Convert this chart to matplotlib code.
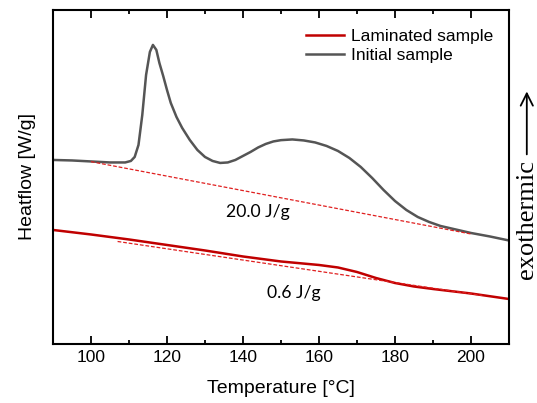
import matplotlib
matplotlib.use("Agg")
import matplotlib.pyplot as plt
from matplotlib.ticker import MultipleLocator, NullLocator

# DSC curves (heat flow in arbitrary units)
t_init = [90, 95, 100, 105, 109, 110.5, 111.5, 112.5, 113.5, 114.5, 115.5, 116.3,
          117.2, 118, 119, 120, 121, 122.5, 124, 126, 128, 130, 132, 134, 136,
          138, 140, 142, 144, 146, 148, 150, 153, 156, 159, 162, 165, 168, 171,
          174, 177, 180, 183, 186, 189, 192, 196, 200, 205, 210]
hf_init = [184, 183.5, 182.5, 181.5, 181.5, 183, 187, 199, 229, 269, 292, 299,
           294, 281, 268, 254, 241, 227, 216, 204, 194, 187, 183, 181, 181.5,
           184, 188, 192, 196.5, 200, 202.5, 203.8, 204.5, 203.5, 201.5, 198,
           193, 186, 177, 166, 154, 143, 134, 127, 122, 118, 114.5, 111, 107.5,
           103.5]

t_lam = [90, 100, 110, 120, 130, 140, 150, 160, 165, 170, 175, 180, 185, 190, 200, 210]
hf_lam = [114, 109.5, 104.5, 99, 93.5, 87.5, 82.5, 79, 76.5, 72, 66, 61, 57.5, 55, 50.5, 45]

# integration baselines
base_init_t = [100, 200]
base_init_hf = [182.3, 110]
base_lam_t = [107, 203]
base_lam_hf = [102.5, 48.5]

enthalpy_labels = ["20.0 J/g", "0.6 J/g"]
label_pos = [(144, 132), (153.5, 51)]

fig = plt.figure(figsize=(5.37, 4.03), dpi=100)
ax = fig.add_axes([0.0987, 0.1464, 0.849, 0.829])

ax.plot(t_lam, hf_lam, color="#c00000", lw=1.8, label="Laminated sample")
ax.plot(t_init, hf_init, color="#555555", lw=1.8, label="Initial sample")
ax.plot(base_init_t, base_init_hf, color="#e02020", lw=0.9, ls=(0, (3, 1.5)))
ax.plot(base_lam_t, base_lam_hf, color="#e02020", lw=0.9, ls=(0, (3, 1.5)))

for txt, (x, y) in zip(enthalpy_labels, label_pos):
    ax.text(x, y, txt, ha="center", va="center", fontsize=12.7, family="Lato")

ax.set_xlim(90, 210)
ax.set_ylim(0, 334)
ax.xaxis.set_major_locator(MultipleLocator(20))
ax.xaxis.set_minor_locator(MultipleLocator(10))
ax.yaxis.set_major_locator(NullLocator())
ax.tick_params(axis="x", which="both", direction="in", top=True, labelsize=12.5, pad=4)
ax.tick_params(axis="x", which="major", length=6, width=1.3)
ax.tick_params(axis="x", which="minor", length=3, width=1.3)
for s in ax.spines.values():
    s.set_linewidth(1.5)

for lab in ax.get_xticklabels():
    lab.set_family("Liberation Sans")

ax.set_xlabel("Temperature [°C]", fontsize=14, family="Liberation Sans", labelpad=11)
ax.set_ylabel("Heatflow [W/g]", fontsize=14, family="Liberation Sans", labelpad=12)

leg = ax.legend(loc="upper right", frameon=False, prop={"family": "Liberation Sans", "size": 12.5},
                handlelength=2.2, handletextpad=0.4, labelspacing=0.2,
                bbox_to_anchor=(1.0, 0.99))

# exothermic arrow on the right
fig.text(0.981, 0.455, "exothermic", rotation=90, ha="center", va="center",
         fontsize=19, family="Liberation Serif")
fig.patches.append(matplotlib.patches.FancyArrowPatch(
    (0.981, 0.61), (0.981, 0.78), transform=fig.transFigure,
    arrowstyle="->", mutation_scale=22, lw=1.3, color="black"))

fig.savefig("out.png", dpi=100)
